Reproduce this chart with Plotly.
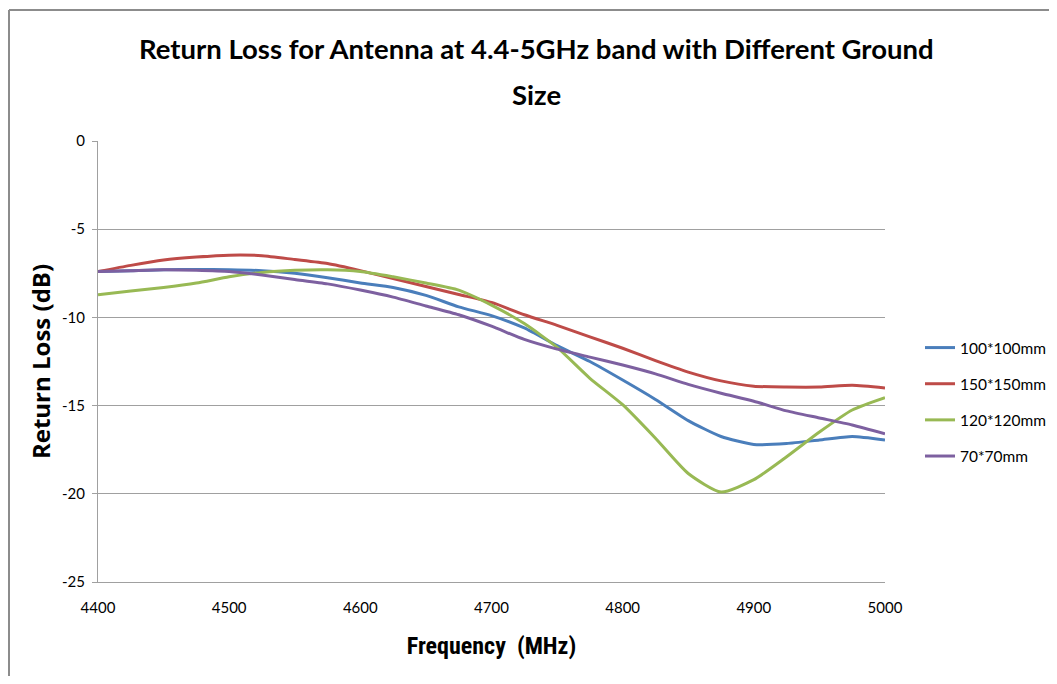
import plotly.graph_objects as go

freq = [4400, 4425, 4450, 4475, 4500, 4525, 4550, 4575, 4600, 4625, 4650, 4675, 4700,
        4725, 4750, 4775, 4800, 4825, 4850, 4875, 4900, 4925, 4950, 4975, 5000]

s100 = [-7.40, -7.35, -7.30, -7.28, -7.30, -7.35, -7.50, -7.75, -8.05, -8.30, -8.75, -9.40, -9.90,
        -10.60, -11.60, -12.50, -13.55, -14.65, -15.85, -16.75, -17.20, -17.15, -16.95, -16.75, -16.95]
s150 = [-7.40, -7.05, -6.75, -6.58, -6.47, -6.50, -6.72, -6.95, -7.35, -7.80, -8.25, -8.70, -9.15,
        -9.85, -10.45, -11.10, -11.75, -12.45, -13.10, -13.60, -13.90, -13.95, -13.95, -13.85, -14.00]
s120 = [-8.72, -8.50, -8.30, -8.05, -7.70, -7.45, -7.33, -7.30, -7.40, -7.70, -8.05, -8.45, -9.30,
        -10.35, -11.70, -13.45, -14.95, -16.85, -18.85, -19.90, -19.20, -17.90, -16.50, -15.25, -14.55]
s70 = [-7.40, -7.35, -7.30, -7.33, -7.40, -7.60, -7.85, -8.10, -8.45, -8.85, -9.35, -9.85, -10.50,
       -11.25, -11.80, -12.25, -12.70, -13.20, -13.80, -14.30, -14.75, -15.30, -15.70, -16.10, -16.60]

names = ["100*100mm", "150*150mm", "120*120mm", "70*70mm"]
colors = ["#4A7EBB", "#BE4B48", "#98B954", "#7D60A0"]
series = [s100, s150, s120, s70]

x_ticks = [4400, 4500, 4600, 4700, 4800, 4900, 5000]
y_ticks = [0, -5, -10, -15, -20, -25]

NARROW = "Liberation Sans Narrow, Roboto Condensed, Arial Narrow, Liberation Sans, sans-serif"
BODY = "Lato, Liberation Sans, sans-serif"

fig = go.Figure()
for name, col, ys in zip(names, colors, series):
    fig.add_trace(go.Scatter(x=freq, y=ys, name=name, mode="lines",
                             line=dict(color=col, width=3, shape="spline", smoothing=0.6),
                             legendgroup=name))

# page has an 8px body margin; keep the figure inside the 1057x684 window
fig.update_layout(
    width=1041, height=668,
    margin=dict(l=90, r=164, t=133, b=94, autoexpand=False),
    paper_bgcolor="white", plot_bgcolor="white",
    font=dict(family=BODY, size=14, color="#000000"),
    showlegend=True,
    legend=dict(x=(920 - 98) / 787, y=(582 - 402) / 441, xanchor="left", yanchor="middle",
                traceorder="grouped", tracegroupgap=13,
                font=dict(family=BODY, size=15.5, color="#000000"),
                bgcolor="rgba(0,0,0,0)"),
    xaxis=dict(range=[4400, 5000], tickvals=x_ticks, ticktext=[str(v) for v in x_ticks],
               showgrid=False, showline=True, linecolor="#A0A0A0", linewidth=1,
               ticks="", zeroline=False, tickfont=dict(family=BODY, size=15),
               ticklabelstandoff=12, automargin=False,
               title=dict(text="<b>Frequency  (MHz)</b>",
                          font=dict(family=NARROW, size=24), standoff=22)),
    yaxis=dict(range=[-25, 0], tickvals=y_ticks, ticktext=[str(v) for v in y_ticks],
               showgrid=True, gridcolor="#A0A0A0", gridwidth=1,
               showline=True, linecolor="#A0A0A0", linewidth=1,
               ticks="outside", ticklen=5, tickcolor="#A0A0A0", zeroline=False,
               tickfont=dict(family=BODY, size=15), ticklabelstandoff=4, automargin=False,
               title=dict(text="<b>Return Loss (dB)</b>",
                          font=dict(family="Open Sans, Liberation Sans, sans-serif", size=24),
                          standoff=4)),
)

# Two-line chart title (wide line spacing as in the reference)
fig.add_annotation(text="<b>Return Loss for Antenna at 4.4-5GHz band with Different Ground</b>",
                   xref="paper", yref="paper", x=(536 - 98) / 787, y=(582 - 48) / 441,
                   xanchor="center", yanchor="middle", showarrow=False,
                   font=dict(family=BODY, size=27.5, color="#000000"))
fig.add_annotation(text="<b>Size</b>",
                   xref="paper", yref="paper", x=(536 - 98) / 787, y=(582 - 95) / 441,
                   xanchor="center", yanchor="middle", showarrow=False,
                   font=dict(family=BODY, size=27.5, color="#000000"))

# Outer chart frame (top and left edges visible in the reference)
fig.add_shape(type="line", xref="paper", yref="paper",
              x0=(9 - 98) / 787, x1=(1060 - 98) / 787, y0=(582 - 10) / 441, y1=(582 - 10) / 441,
              line=dict(color="#8C8C8C", width=2))
fig.add_shape(type="line", xref="paper", yref="paper",
              x0=(9 - 98) / 787, x1=(9 - 98) / 787, y0=(582 - 10) / 441, y1=(582 - 700) / 441,
              line=dict(color="#8C8C8C", width=2))

fig.write_html("out.html")
